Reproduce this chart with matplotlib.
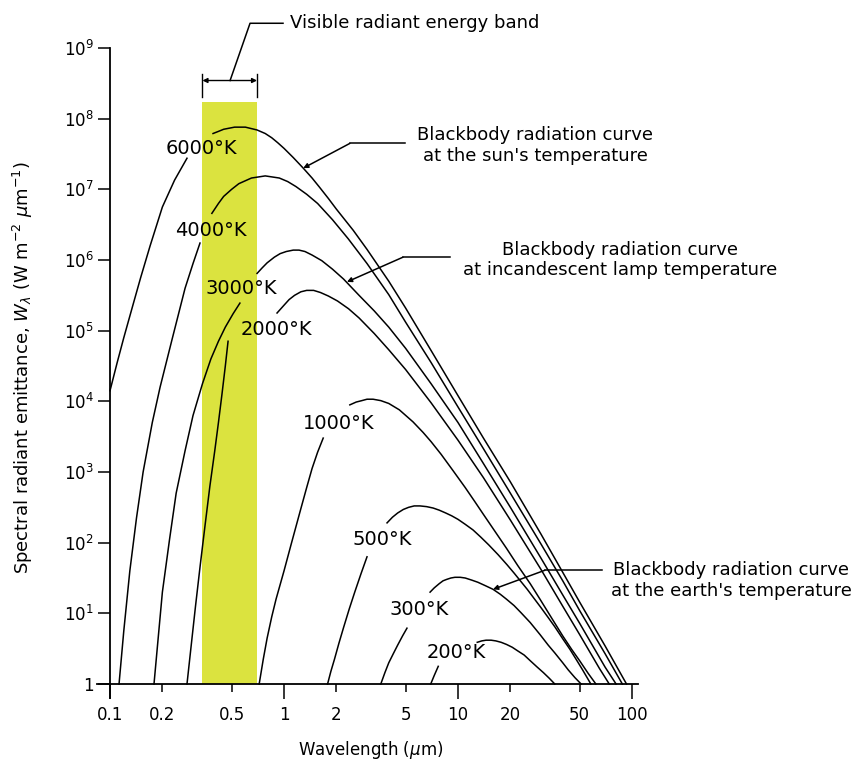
import numpy as np
import matplotlib.pyplot as plt
from matplotlib.ticker import FixedLocator, FixedFormatter, NullLocator

plt.rcParams['font.family'] = ['DejaVu Sans']
plt.rcParams['mathtext.fontset'] = 'dejavusans'

nan = np.nan

# Wavelength (um) and log10 of spectral emittance (W m-2 um-1).
# nan marks the gap where the temperature label sits on the curve.
wl_6000 = [0.1, 0.11, 0.12, 0.135, 0.15, 0.17, 0.2, 0.235, 0.277, nan,
           0.391, 0.42, 0.45, 0.52, 0.6, 0.7, 0.78, 0.85, 0.92, 1.0, 1.13, 1.29, 1.45, 1.6, 1.8, 2, 2.5, 3,
           4, 5, 7, 10, 14, 20, 30, 40, 50, 70, 93]
lg_6000 = [4.15, 4.55, 4.9, 5.35, 5.75, 6.2, 6.75, 7.13, 7.44, nan,
           7.79, 7.82, 7.85, 7.88, 7.88, 7.84, 7.79, 7.73, 7.66, 7.58, 7.45, 7.30, 7.16, 7.03, 6.87, 6.72, 6.42, 6.15,
           5.7, 5.32, 4.72, 4.08, 3.48, 2.86, 2.12, 1.58, 1.16, 0.54, 0]

wl_4000 = [0.1127, 0.12, 0.13, 0.142, 0.155, 0.175, 0.194, 0.227, 0.27, 0.3, 0.329, nan,
           0.385, 0.42, 0.45, 0.5, 0.55, 0.65, 0.78, 0.94, 1.05, 1.17, 1.35, 1.56, 1.9, 2.34, 3, 4, 5, 7,
           10, 14, 20, 30, 40, 50, 70, 88]
lg_4000 = [0, 0.75, 1.6, 2.35, 3.0, 3.7, 4.2, 4.87, 5.6, 5.95, 6.24, nan,
           6.66, 6.8, 6.9, 7.0, 7.08, 7.16, 7.19, 7.16, 7.11, 7.04, 6.93, 6.8, 6.57, 6.3, 5.95, 5.51, 5.12, 4.55,
           3.92, 3.33, 2.7, 1.98, 1.46, 1.04, 0.43, 0]

wl_3000 = [0.179, 0.19, 0.2, 0.22, 0.24, 0.27, 0.3, 0.34, 0.38, 0.42, 0.46, 0.51, 0.558, nan,
           0.70, 0.75, 0.8, 0.88, 0.95, 1.03, 1.13, 1.22, 1.32, 1.45, 1.65, 1.9, 2.2, 2.7, 3.3, 4, 5, 7,
           10, 14, 20, 30, 40, 50, 70, 81]
lg_3000 = [0, 0.7, 1.3, 2.05, 2.7, 3.3, 3.8, 4.25, 4.6, 4.85, 5.05, 5.24, 5.39, nan,
           5.81, 5.89, 5.96, 6.04, 6.09, 6.12, 6.14, 6.14, 6.12, 6.07, 5.99, 5.87, 5.73, 5.5, 5.28, 5.05, 4.75, 4.25,
           3.7, 3.12, 2.5, 1.78, 1.26, 0.86, 0.24, 0]

wl_2000 = [0.277, 0.29, 0.31, 0.33, 0.35, 0.375, 0.4, 0.42, 0.44, 0.46, 0.477, nan,
           0.912, 1.0, 1.07, 1.15, 1.25, 1.35, 1.48, 1.62, 1.8, 2.03, 2.35, 2.7, 3.3, 4, 5, 7,
           10, 14, 20, 30, 40, 50, 65, 74]
lg_2000 = [0, 0.45, 1.1, 1.68, 2.2, 2.8, 3.3, 3.7, 4.1, 4.5, 4.85, nan,
           5.25, 5.36, 5.44, 5.5, 5.55, 5.57, 5.57, 5.54, 5.49, 5.42, 5.31, 5.18, 4.96, 4.73, 4.45, 3.98,
           3.45, 2.92, 2.32, 1.62, 1.1, 0.7, 0.22, 0]

wl_1000 = [0.72, 0.76, 0.8, 0.85, 0.9, 1.0, 1.1, 1.24, 1.35, 1.45, 1.56, 1.68, nan,
           2.39, 2.6, 2.8, 3.0, 3.25, 3.6, 4.0, 4.6, 5.51, 6.3, 7.0, 8, 9.36, 11, 12.5, 14, 15.9, 19, 22, 26,
           29.6, 35, 40, 45, 50, 56, 62]
lg_1000 = [0, 0.35, 0.65, 0.95, 1.2, 1.6, 1.98, 2.45, 2.78, 3.05, 3.28, 3.48, nan,
           3.95, 3.99, 4.01, 4.03, 4.03, 4.01, 3.97, 3.88, 3.71, 3.56, 3.43, 3.25, 3.02, 2.78, 2.58, 2.4, 2.2, 1.92,
           1.68, 1.42, 1.2, 0.91, 0.68, 0.49, 0.33, 0.15, 0]

wl_500 = [1.78, 1.86, 1.95, 2.07, 2.2, 2.37, 2.55, 2.77, 3.0, nan,
          3.91, 4.2, 4.5, 4.85, 5.2, 5.6, 6.05, 6.6, 7.2, 7.8, 8.5, 9.2, 10, 11, 12.2, 13.5, 15, 17, 19.1, 21, 23,
          25, 27, 30, 33, 36, 40, 44, 48, 52, 58]
lg_500 = [0, 0.18, 0.35, 0.58, 0.8, 1.06, 1.3, 1.56, 1.8, nan,
          2.28, 2.36, 2.42, 2.47, 2.5, 2.52, 2.52, 2.51, 2.49, 2.46, 2.42, 2.38, 2.33, 2.26, 2.18, 2.08, 1.97, 1.83,
          1.69, 1.57, 1.45, 1.34, 1.23, 1.08, 0.94, 0.81, 0.64, 0.49, 0.34, 0.2, 0]

wl_300 = [3.6, 3.8, 4.0, 4.25, 4.5, 4.8, 5.09, nan,
          6.91, 7.3, 7.8, 8.2, 8.6, 9.1, 9.6, 10.3, 11, 12, 13, 14.4, 15.9, 17.5, 19, 21, 23, 26, 29.6, 33, 36,
          40, 43, 47, 51]
lg_300 = [0, 0.16, 0.3, 0.43, 0.55, 0.68, 0.79, nan,
          1.3, 1.36, 1.42, 1.46, 1.48, 1.5, 1.51, 1.51, 1.5, 1.47, 1.44, 1.39, 1.34, 1.27, 1.2, 1.11, 1.01, 0.87,
          0.7, 0.55, 0.44, 0.3, 0.2, 0.09, 0]

wl_200 = [6.97, 7.3, 7.7, nan, 12.9, 13.7, 14.5, 15.5, 16.5, 17.7, 19, 20.5, 22, 24, 26, 28.5, 31, 33.5, 36]
lg_200 = [0, 0.12, 0.25, nan, 0.59, 0.61, 0.62, 0.62, 0.61, 0.59, 0.56, 0.52, 0.47, 0.41, 0.33, 0.24, 0.16,
          0.08, 0]

curves = [
    (wl_6000, lg_6000, '6000°K', (0.333, 7.58)),
    (wl_4000, lg_4000, '4000°K', (0.38, 6.42)),
    (wl_3000, lg_3000, '3000°K', (0.57, 5.60)),
    (wl_2000, lg_2000, '2000°K', (0.906, 5.01)),
    (wl_1000, lg_1000, '1000°K', (2.07, 3.69)),
    (wl_500, lg_500, '500°K', (3.66, 2.05)),
    (wl_300, lg_300, '300°K', (5.97, 1.05)),
    (wl_200, lg_200, '200°K', (9.75, 0.44)),
]

# visible band
band_lo, band_hi = 0.34, 0.70
band_top = 1.7e8

x_major = [0.1, 1, 10, 100]
x_minor = [0.2, 0.5, 2, 5, 20, 50]
y_ticks = [10.0 ** k for k in range(10)]
y_labels = ['1'] + [r'$\mathregular{10^{%d}}$' % k for k in range(1, 10)]

fig = plt.figure(figsize=(8.6, 7.62), dpi=100)
x_lo = 10 ** (-1 - 13 / 174)
x_hi = 10 ** (2 + 6 / 174)
y_lo = 10 ** (-14 / 70.7)
ax = fig.add_axes([97 / 860, 1 - 698 / 762, (638 - 97) / 860, (698 - 48) / 762])
ax.set_xscale('log')
ax.set_yscale('log')
ax.set_xlim(x_lo, x_hi)
ax.set_ylim(y_lo, 1e9)

ax.fill_between([band_lo, band_hi], [1, 1], [band_top, band_top], color='#dbe33f', lw=0, zorder=1)

for wl, lg, name, (lx, ly) in curves:
    ax.plot(wl, 10 ** np.array(lg), color='black', lw=1.1, zorder=3)
    ax.text(lx, 10 ** ly, name, ha='center', va='center', fontsize=14, zorder=4)

# axes styling
for s in ['top', 'right']:
    ax.spines[s].set_visible(False)
ax.spines['left'].set_position(('data', 0.1))
ax.spines['left'].set_bounds(y_lo, 1e9)
ax.spines['bottom'].set_position(('data', 1))
ax.spines['left'].set_linewidth(1.3)
ax.spines['bottom'].set_linewidth(1.3)

ax.xaxis.set_major_locator(FixedLocator(x_major))
ax.xaxis.set_major_formatter(FixedFormatter(['0.1', '1', '10', '100']))
ax.xaxis.set_minor_locator(FixedLocator(x_minor))
ax.xaxis.set_minor_formatter(FixedFormatter(['0.2', '0.5', '2', '5', '20', '50']))
ax.tick_params(axis='x', which='major', direction='out', length=10.8, width=1.1, pad=5, labelsize=12)
ax.tick_params(axis='x', which='minor', direction='out', length=5.8, width=1.1, pad=10, labelsize=12)

ax.yaxis.set_major_locator(FixedLocator(y_ticks))
ax.yaxis.set_major_formatter(FixedFormatter(y_labels))
ax.yaxis.set_minor_locator(NullLocator())
ax.tick_params(axis='y', which='major', direction='out', length=8.6, width=1.1, pad=3, labelsize=12)

fig.text(0.027, 0.517, r'Spectral radiant emittance, $W_\lambda$ (W m$^{-2}$ $\mu$m$^{-1}$)',
         rotation=90, ha='center', va='center', fontsize=13)
fig.text(371 / 860, 1 - 750 / 762, r'Wavelength ($\mu$m)', ha='center', va='center', fontsize=12)

# visible band bracket
yb = 10 ** 8.54
ax.annotate('', xy=(band_hi, yb), xytext=(band_lo, yb),
            arrowprops=dict(arrowstyle='<|-|>', mutation_scale=7, lw=1, color='black',
                            shrinkA=0, shrinkB=0), annotation_clip=False)
for xb in (band_lo, band_hi):
    ax.plot([xb, xb], [10 ** 8.30, 10 ** 8.63], color='black', lw=1, clip_on=False)
ax.plot([0.49, 0.638, 0.987], [yb, 10 ** 9.35, 10 ** 9.35], color='black', lw=1.1, clip_on=False)
ax.text(1.08, 10 ** 9.36, 'Visible radiant energy band', ha='left', va='center', fontsize=13)

# leaders to the curves
def leader(tip, knee, end, text_xy, text):
    ax.annotate('', xy=tip, xytext=knee,
                arrowprops=dict(arrowstyle='-|>', mutation_scale=7, lw=1.1, color='black',
                                shrinkA=0, shrinkB=0))
    ax.plot([knee[0], end[0]], [knee[1], end[1]], color='black', lw=1.1, clip_on=False)
    ax.text(text_xy[0], text_xy[1], text, ha='center', va='center', multialignment='center',
            fontsize=13, linespacing=1.2)


leader((1.29, 10 ** 7.30), (2.39, 10 ** 7.65), (4.95, 10 ** 7.65), (27.7, 10 ** 7.62),
       "Blackbody radiation curve\nat the sun's temperature")
leader((2.3, 10 ** 5.69), (4.83, 10 ** 6.04), (9.0, 10 ** 6.04), (85.3, 10 ** 6.0),
       'Blackbody radiation curve\nat incandescent lamp temperature')
leader((15.9, 10 ** 1.34), (31.6, 10 ** 1.61), (67.3, 10 ** 1.61), (371, 10 ** 1.47),
       "Blackbody radiation curve\nat the earth's temperature")

fig.savefig('out.png', dpi=100)
